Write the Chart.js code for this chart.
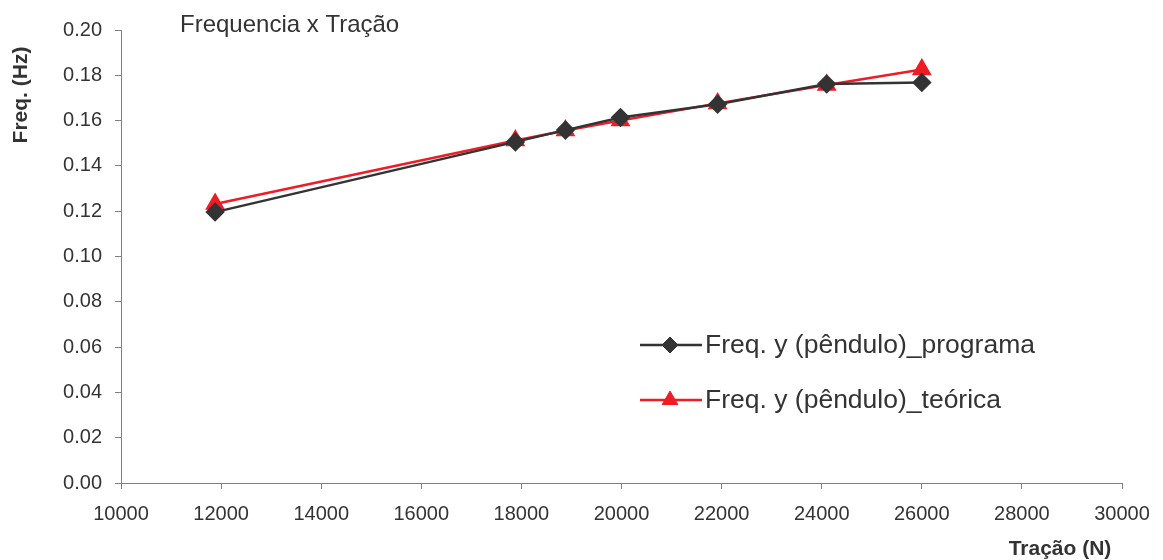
<!DOCTYPE html>
<html>
<head>
<meta charset="utf-8">
<script src="https://cdn.jsdelivr.net/npm/chart.js@4.4.0/dist/chart.umd.min.js"></script>
<style>
  html, body { margin: 0; padding: 0; background: #fff; }
  #wrap { width: 1163px; height: 560px; }
</style>
</head>
<body>
<div id="wrap"><canvas id="graf"></canvas></div>
<script>
// tração (N)
var tracao = [11880, 17880, 18880, 19980, 21920, 24100, 26000];
// freq. programa e teórica (Hz)
var freqPrograma = [0.1196, 0.1506, 0.1558, 0.1614, 0.1672, 0.1762, 0.1768];
var freqTeorica = [0.1232, 0.1512, 0.1556, 0.1600, 0.1676, 0.1757, 0.1826];

var titulo = "Frequencia x Tração";
var nomes = ["Freq. y (pêndulo)_programa", "Freq. y (pêndulo)_teórica"];

var fonte = "'Liberation Sans', Arial, sans-serif";

function pontos(ys) {
  return tracao.map(function (x, i) { return { x: x, y: ys[i] }; });
}

// texto extra: título, eixos e legenda dentro do gráfico
var textos = {
  id: 'textos',
  afterDraw: function (chart) {
    var ctx = chart.ctx;
    ctx.save();
    ctx.fillStyle = '#333';
    ctx.font = '24px ' + fonte;
    ctx.textBaseline = 'middle';
    ctx.fillText(titulo, 180, 25);

    // eixo x
    ctx.font = 'bold 21px ' + fonte;
    ctx.textAlign = 'center';
    ctx.fillText('Tração (N)', 1060, 549);
    // eixo y
    ctx.translate(21, 95);
    ctx.rotate(-Math.PI / 2);
    ctx.fillText('Freq. (Hz)', 0, 0);
    ctx.restore();

    // legenda
    ctx.save();
    var ys = [345, 400];
    chart.data.datasets.forEach(function (ds, i) {
      var y = ys[i];
      ctx.strokeStyle = ds.borderColor;
      ctx.lineWidth = 2.5;
      ctx.beginPath();
      ctx.moveTo(640, y);
      ctx.lineTo(702, y);
      ctx.stroke();
      ctx.fillStyle = ds.pointBackgroundColor;
      ctx.strokeStyle = ds.pointBackgroundColor;
      ctx.lineWidth = 1;
      Chart.helpers.drawPoint(ctx, {
        pointStyle: ds.pointStyle, radius: ds.pointRadius, rotation: 0, borderWidth: 1
      }, 670, y);
      ctx.fillStyle = '#333';
      ctx.font = '26.5px ' + fonte;
      ctx.textBaseline = 'middle';
      ctx.fillText(ds.label, 705, y + 1);
    });
    ctx.restore();
  }
};

var ctx = document.getElementById('graf').getContext('2d');
var grafico = new Chart(ctx, {
  type: 'scatter',
  data: {
    datasets: [{
      label: nomes[0],
      data: pontos(freqPrograma),
      showLine: true,
      borderColor: '#333333',
      borderWidth: 2.5,
      pointStyle: 'rectRot',
      pointRadius: 8,
      pointBackgroundColor: '#333333',
      pointBorderColor: '#333333'
    }, {
      label: nomes[1],
      data: pontos(freqTeorica),
      showLine: true,
      borderColor: '#ee1c25',
      borderWidth: 2.5,
      pointStyle: 'triangle',
      pointRadius: 9,
      pointBackgroundColor: '#ee1c25',
      pointBorderColor: '#ee1c25'
    }]
  },
  options: {
    responsive: true,
    maintainAspectRatio: false,
    animation: false,
    layout: { padding: { left: 0, top: 30, right: 41, bottom: 0 } },
    plugins: {
      legend: { display: false },
      tooltip: { enabled: false }
    },
    scales: {
      x: {
        type: 'linear',
        min: 10000,
        max: 30000,
        afterFit: function (s) { s.height = 77; },
        ticks: {
          stepSize: 2000,
          color: '#333',
          font: { family: fonte, size: 20 },
          padding: 13,
          maxRotation: 0,
          callback: function (v) { return String(v); }
        },
        grid: { drawOnChartArea: false, drawTicks: true, tickLength: 6, color: '#808080' },
        border: { display: true, color: '#808080', width: 1 }
      },
      y: {
        min: 0,
        max: 0.2,
        afterFit: function (s) { s.width = 121; },
        ticks: {
          stepSize: 0.02,
          color: '#333',
          font: { family: fonte, size: 20 },
          padding: 13,
          callback: function (v) { return v.toFixed(2); }
        },
        grid: { drawOnChartArea: false, drawTicks: true, tickLength: 6, color: '#808080' },
        border: { display: true, color: '#808080', width: 1 }
      }
    }
  },
  plugins: [textos]
});
</script>
</body>
</html>
